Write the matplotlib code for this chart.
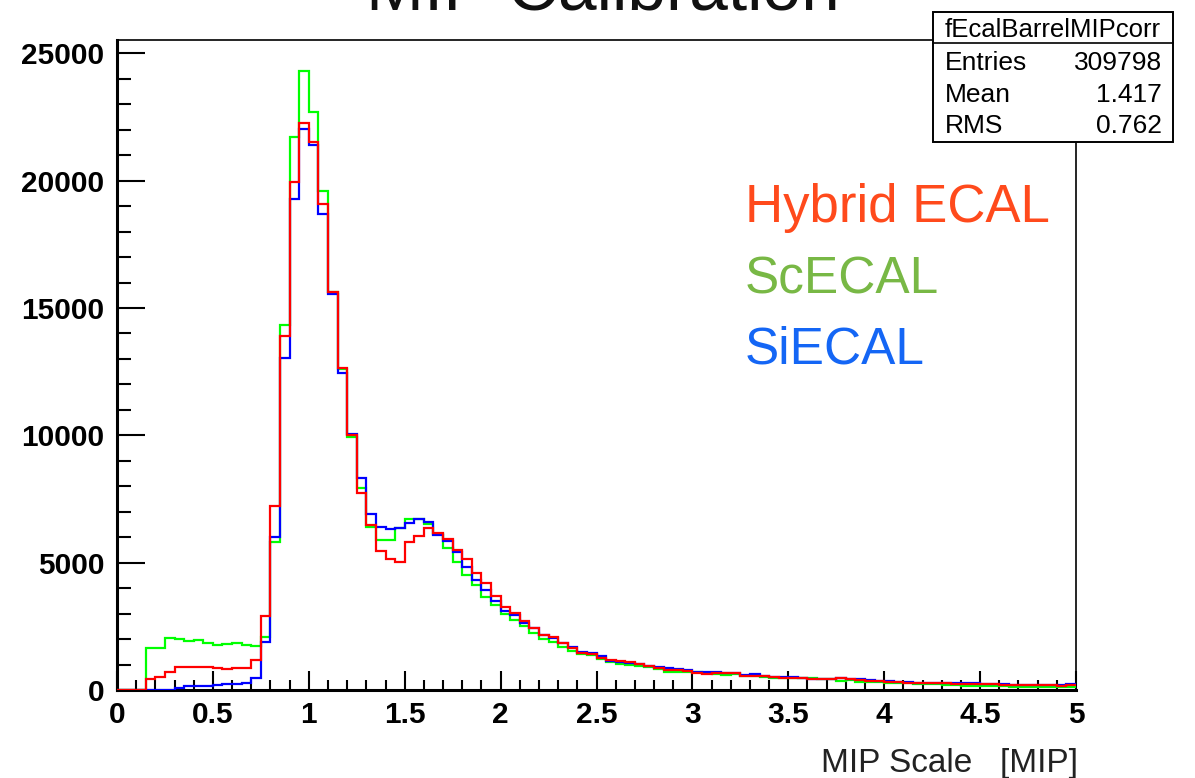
import numpy as np
import matplotlib
matplotlib.use("Agg")
import matplotlib.pyplot as plt
from matplotlib.ticker import MultipleLocator
from matplotlib.patches import Rectangle
from matplotlib.lines import Line2D

plt.rcParams['font.family'] = ['Liberation Sans', 'DejaVu Sans']

# 100 bins of 0.05 MIP from 0 to 5
bin_lo, bin_hi, n_bins = 0.0, 5.0, 100

hybrid = [0, 0, 0, 420, 500, 720, 915, 890, 915, 890,
          850, 825, 850, 850, 1180, 2920, 7220, 13900, 19950, 22280,
          21520, 19100, 15630, 12630, 10000, 7720, 6480, 5460, 5130, 5040,
          5800, 6060, 6350, 6180, 5940, 5500, 5130, 4580, 4210, 3700,
          3270, 3010, 2720, 2450, 2160, 2090, 1860, 1640, 1470, 1410,
          1240, 1180, 1150, 1080, 1020, 955, 850, 785, 785, 760,
          680, 630, 655, 655, 680, 565, 550, 550, 525, 485,
          460, 460, 430, 420, 430, 460, 440, 390, 370, 366,
          330, 300, 290, 262, 262, 262, 262, 235, 222, 222,
          222, 222, 196, 196, 196, 196, 196, 196, 170, 196]

scecal = [0, 0, 0, 1640, 1640, 2050, 2000, 1920, 1950, 1860,
          1770, 1800, 1830, 1770, 1740, 2070, 5810, 14330, 21720, 24310,
          22700, 19600, 15630, 12590, 9920, 7920, 6410, 5890, 5910, 6350,
          6710, 6710, 6500, 6120, 5570, 5040, 4510, 4110, 3660, 3320,
          2980, 2750, 2510, 2250, 1990, 1900, 1700, 1530, 1410, 1370,
          1200, 1110, 1020, 980, 940, 915, 810, 720, 720, 720,
          706, 654, 628, 590, 628, 563, 563, 523, 484, 458,
          484, 458, 458, 420, 420, 366, 380, 327, 301, 301,
          288, 262, 262, 222, 222, 222, 196, 196, 170, 170,
          170, 157, 157, 131, 131, 131, 105, 105, 131, 131]

siecal = [0, 0, 0, 0, 0, 0, 65, 170, 170, 170,
          183, 222, 248, 262, 484, 1870, 6000, 13030, 19300, 22050,
          21420, 18710, 15570, 12460, 10070, 8310, 6930, 6410, 6320, 6370,
          6540, 6710, 6610, 6080, 5870, 5400, 4840, 4320, 3940, 3480,
          3110, 2940, 2620, 2450, 2160, 2030, 1830, 1700, 1500, 1465,
          1335, 1150, 1110, 1070, 1040, 940, 890, 850, 824, 785,
          706, 693, 693, 654, 654, 589, 628, 550, 523, 523,
          497, 458, 432, 420, 432, 484, 440, 432, 392, 366,
          353, 327, 301, 288, 288, 288, 288, 262, 262, 262,
          222, 222, 222, 196, 196, 196, 196, 196, 196, 222]

x_ticks = [0, 0.5, 1, 1.5, 2, 2.5, 3, 3.5, 4, 4.5, 5]
x_tick_labels = ['0', '0.5', '1', '1.5', '2', '2.5', '3', '3.5', '4', '4.5', '5']
y_ticks = [0, 5000, 10000, 15000, 20000, 25000]

stats_name = 'fEcalBarrelMIPcorr'
stats_rows = [('Entries', '309798'), ('Mean', '1.417'), ('RMS', '0.762')]

edges = np.linspace(bin_lo, bin_hi, n_bins + 1)

fig = plt.figure(figsize=(11.95, 7.78), dpi=100)
W, H = 1195.0, 778.0
ax = fig.add_axes([117 / W, 1 - 690 / H, (1076 - 117) / W, (690 - 40) / H])

ax.stairs(scecal, edges, color='#00ff00', lw=1.6, baseline=None, zorder=3)
ax.stairs(siecal, edges, color='#0000ff', lw=1.6, baseline=None, zorder=3)
ax.stairs(hybrid, edges, color='#ff0000', lw=1.6, baseline=None, zorder=3)

ax.set_xlim(0, 5)
ax.set_ylim(0, 1.05 * max(scecal))

ax.set_xticks(x_ticks)
ax.set_xticklabels(x_tick_labels, fontweight='bold', fontsize=21.5)
ax.set_yticks(y_ticks)
ax.set_yticklabels([str(v) for v in y_ticks], fontweight='bold', fontsize=21.5)
ax.xaxis.set_minor_locator(MultipleLocator(0.1))
ax.yaxis.set_minor_locator(MultipleLocator(1000))
ax.tick_params(axis='x', which='major', direction='in', length=14, width=1.5, pad=8)
ax.tick_params(axis='x', which='minor', direction='in', length=7, width=1.5)
ax.tick_params(axis='y', which='major', direction='in', length=20, width=1.5, pad=9)
ax.tick_params(axis='y', which='minor', direction='in', length=10, width=1.5)

for side in ['bottom', 'left']:
    ax.spines[side].set_linewidth(2.2)
for side in ['top', 'right']:
    ax.spines[side].set_linewidth(1.2)

# legend-like coloured text
ax.text(745 / W, 1 - 222 / H, 'Hybrid ECAL', transform=fig.transFigure,
        color='#ff4a1c', fontsize=38, va='baseline', ha='left')
ax.text(745 / W, 1 - 293 / H, 'ScECAL', transform=fig.transFigure,
        color='#78b845', fontsize=37, va='baseline', ha='left')
ax.text(745 / W, 1 - 364 / H, 'SiECAL', transform=fig.transFigure,
        color='#1466f5', fontsize=37, va='baseline', ha='left')

# title, mostly off the top of the canvas (as in the original)
fig.text(603 / W, 1 - 9 / H, 'MIP Calibration', fontsize=50,
         ha='center', va='baseline', color='#111111')

fig.text(1078 / W, 1 - 772 / H, 'MIP Scale   [MIP]', fontsize=24,
         ha='right', va='baseline', color='#222222')

# stats box
bx0, bx1, by0, by1 = 933 / W, 1173 / W, 1 - 142 / H, 1 - 12 / H
fig.add_artist(Rectangle((bx0, by0), bx1 - bx0, by1 - by0, transform=fig.transFigure,
                         facecolor='white', edgecolor='black', lw=1.4, zorder=10))
fig.add_artist(Line2D([bx0, bx1], [1 - 43 / H, 1 - 43 / H], transform=fig.transFigure,
                      color='black', lw=1.2, zorder=11))
fig.text((bx0 + bx1) / 2, 1 - 37 / H, stats_name, fontsize=18.5, ha='center',
         va='baseline', zorder=12)
for k, (lab, val) in enumerate(stats_rows):
    yb = 1 - (70 + 31.5 * k) / H
    fig.text(945 / W, yb, lab, fontsize=19, ha='left', va='baseline', zorder=12)
    fig.text(1162 / W, yb, val, fontsize=19, ha='right', va='baseline', zorder=12)

fig.savefig('out.png', dpi=100)
